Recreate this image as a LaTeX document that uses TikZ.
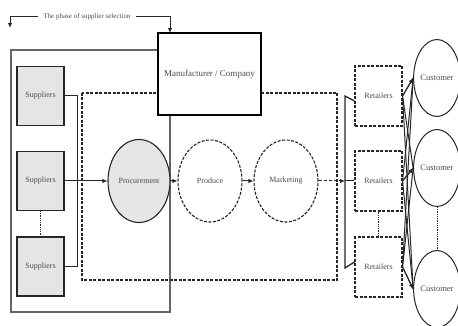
\documentclass[tikz,border=0pt]{standalone}
\usepackage{fontspec}
\setmainfont{Liberation Serif}
\usetikzlibrary{shapes,arrows,arrows.meta,positioning,calc}

\begin{document}
\begin{tikzpicture}[x=1pt, y=-1pt, >={Latex[length=5pt,width=4.5pt]},
    every node/.style={font=\fontsize{8}{9}\selectfont, text=black!70},
    dashdense/.style={dash pattern=on 3pt off 1.5pt},
    supbox/.style={draw=black!85, rectangle, fill=black!10, line width=1.1pt, minimum width=47pt, minimum height=59pt, inner sep=0pt},
    retbox/.style={draw=black!85, rectangle, dashdense, line width=1.1pt, minimum width=47pt, minimum height=60pt, inner sep=0pt},
    stage/.style={draw=black!85, ellipse, line width=1.1pt, minimum width=64pt, minimum height=82pt, inner sep=0pt},
    cust/.style={draw=black!85, ellipse, line width=1pt, minimum width=38pt, minimum height=77pt, inner sep=0pt, font=\fontsize{8.5}{9}\selectfont},
    link/.style={black!85, line width=1pt}]
       \useasboundingbox (0,0) rectangle (458,326);

       %Frames
       \draw[black!60, line width=1.5pt] (11,50) rectangle (170,312); % supplier selection
       \draw[black!85, line width=1.1pt, dashdense] (82,93) rectangle (337,280); % company

       %Defining nodes
       \node[supbox] (Sup1) at (40.5,96) {Suppliers};
       \node[supbox] (Sup2) at (40.5,181) {Suppliers};
       \node[supbox] (Sup3) at (40.5,266.5) {Suppliers};

       \node[stage, fill=black!10, minimum width=62pt, minimum height=83pt] (Proc) at (139,181) {Procurement};
       \node[stage, dashdense] (Prod) at (210,181) {Produce};
       \node[stage, dashdense] (Mkt) at (286,181) {Marketing};

       \node[draw=black, line width=1.5pt, fill=white, minimum width=103pt, minimum height=82pt, inner sep=0pt, font=\fontsize{9}{10}\selectfont] (Mfr) at (209.5,74) {Manufacturer / Company};

       \node[retbox] (Ret1) at (378.5,96) {Retailers};
       \node[retbox] (Ret2) at (378.5,181) {Retailers};
       \node[retbox] (Ret3) at (378.5,267) {Retailers};

       \node[cust] (Cus1) at (437,78) {Customer};
       \node[cust] (Cus2) at (437,168) {Customer};
       \node[cust] (Cus3) at (437,289) {Customer};

       \node[font=\fontsize{7}{8}\selectfont, inner sep=5pt] (Phase) at (87,17) {The phase of supplier selection};
       \coordinate (PhaseL) at (10,28);
       \coordinate (PhaseR) at (170,33);
       \coordinate (BrTop) at (345,96);
       \coordinate (BrBot) at (345,268);

       %Drawing Diagram
       \draw[link, ->] (Phase.west) -| (PhaseL);
       \draw[link, ->] (Phase.east) -| (PhaseR);

       \draw[link] (Sup1.east) -- ++(13,0) |- (Sup3.east);
       \draw[link, ->] (Sup2.east) -- (Proc.west);
       \draw[black!85, densely dotted, thick] (Sup2.south) -- (Sup3.north);

       \draw[link, ->] (Proc.east) -- (Prod.west);
       \draw[link, ->] (Prod.east) -- (Mkt.west);
       \draw[link, densely dashed, ->] (Mkt.east) -- (Mkt.east -| BrTop);
       \draw[link] (Mkt.east -| BrTop) -- (Ret2.west);
       \draw[black!85, line width=1.3pt] ($(Ret1.west)+(0,5)$) -- (BrTop) -- (BrBot) -- ($(Ret3.west)+(0,-5)$);

       \foreach \r in {1,2,3}
         \foreach \c in {1,2,3}
           \draw[link] (Ret\r.east) -- (Cus\c.west);
       \foreach \i in {1,2,3}
         \draw[link, ->] (Ret\i.east) -- (Cus\i.west);

       \draw[black!85, densely dotted, thick] (Ret2.south) -- (Ret3.north);
       \draw[black!85, densely dotted, thick] (Cus2.south) -- (Cus3.north);
\end{tikzpicture}
\end{document}
